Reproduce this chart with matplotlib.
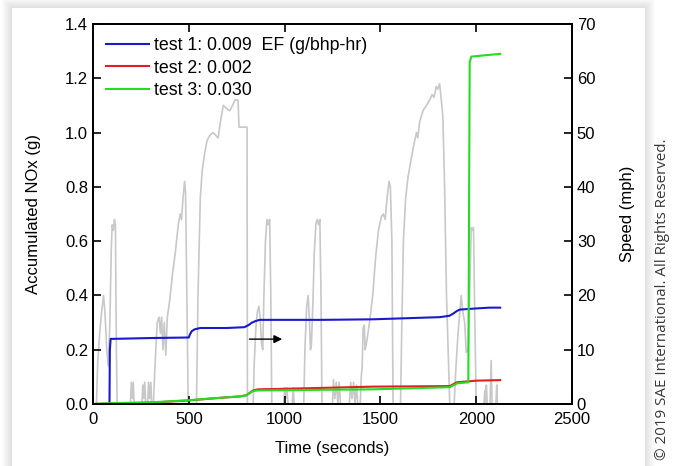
import matplotlib
matplotlib.use("Agg")
from matplotlib import pyplot as plt
from matplotlib.patches import Rectangle

plt.rcParams['font.family'] = ['Liberation Sans', 'DejaVu Sans']

# accumulated NOx (g) vs time (s)
t1 = [0, 86, 88, 92, 110, 300, 500, 505, 515, 530, 560, 700, 790, 810, 830, 850, 870,
      1200, 1460, 1810, 1860, 1880, 1900, 1915, 1960, 2000, 2070, 2125]
nox1 = [0, 0, 0.20, 0.24, 0.24, 0.243, 0.245, 0.255, 0.268, 0.275, 0.28, 0.28, 0.283,
        0.29, 0.30, 0.306, 0.31, 0.31, 0.312, 0.32, 0.325, 0.333, 0.343, 0.348, 0.35,
        0.352, 0.355, 0.355]
t2 = [0, 100, 300, 500, 650, 767, 800, 836, 860, 1000, 1463, 1863, 1898, 1950, 2000, 2125]
nox2 = [0, 0.002, 0.005, 0.013, 0.022, 0.028, 0.032, 0.05, 0.054, 0.056, 0.064, 0.066,
        0.08, 0.083, 0.086, 0.088]
t3 = [0, 100, 300, 500, 650, 767, 800, 836, 860, 1000, 1463, 1863, 1900, 1959, 1962,
      1966, 1975, 2050, 2125]
nox3 = [0, 0.003, 0.006, 0.014, 0.022, 0.028, 0.032, 0.048, 0.05, 0.051, 0.054, 0.062,
        0.076, 0.08, 0.6, 1.26, 1.28, 1.285, 1.29]

# vehicle speed (mph)
t_speed = [0, 18, 25, 35, 45, 55, 62, 72, 80, 88, 95, 100, 106, 112, 117, 122, 126,
           195, 200, 205, 210, 215, 255, 260, 265, 270, 275, 285, 290, 296, 302, 306,
           315, 325, 335, 345, 352, 358, 365, 372, 380, 388, 400, 415, 430, 445, 455,
           462, 470, 478, 483, 490, 497,
           540, 548, 560, 570, 582, 595, 610, 627, 640, 653, 665, 680, 695, 714, 728,
           741, 757, 762, 804, 806,
           836, 842, 850, 858, 866, 872, 880, 886, 892, 900, 908, 915, 922, 928, 933,
           995, 1000, 1006, 1012, 1018, 1040, 1045, 1050,
           1100, 1106, 1115, 1123, 1130, 1135, 1140, 1148, 1155, 1163, 1170, 1178, 1184,
           1190, 1195,
           1250, 1255, 1262, 1270, 1278, 1285, 1292, 1338, 1345, 1352, 1360, 1368, 1375,
           1382,
           1395, 1400, 1405, 1410, 1416, 1420, 1426, 1435, 1445, 1460, 1475, 1490, 1505,
           1515, 1525, 1535, 1545, 1552, 1560, 1566,
           1605, 1612, 1620, 1632, 1645, 1655, 1670, 1688, 1695, 1705, 1722, 1740, 1757,
           1770, 1780, 1792, 1800, 1809, 1818, 1826, 1835, 1845, 1855, 1862,
           1885, 1893, 1905, 1915, 1922, 1930, 1940, 1948, 1958, 1966, 1974, 1980, 1986,
           1993, 2000,
           2040, 2045, 2050, 2053, 2058, 2072, 2078, 2083, 2103, 2107, 2111, 2125]
speed = [0, 0, 8, 13, 17, 20, 17, 10, 7, 15, 28, 33, 32, 34, 33, 10, 0,
         0, 4, 1, 4, 0, 0, 3.5, 1, 4, 0, 0, 4, 1, 4, 0,
         0, 8, 15, 16, 13, 16, 10, 15, 9, 16, 19, 24, 28, 33, 35,
         34, 38, 41, 39, 20, 0,
         0, 20, 38, 43, 46, 48.5, 49.5, 50, 49.5, 49, 52, 55, 54.5, 54, 55,
         56, 56, 51, 51, 0,
         0, 8, 14, 17, 18, 16, 11, 10, 20, 30, 34, 33, 34, 20, 0,
         0, 3, 1, 3, 0, 0, 3, 0,
         0, 10, 18, 20, 15, 10, 11, 19, 28, 33, 34, 33, 34,
         20, 0,
         0, 4.5, 1, 4, 0, 4, 0, 0, 4, 1, 4, 0, 3.5,
         0,
         0, 5, 7, 14, 14.5, 10, 11, 13, 15.5, 20, 27, 32, 34.5,
         35, 34, 38, 41, 40, 30, 0,
         0, 15, 30, 38, 42, 44, 47, 50, 49, 52, 54, 55, 56,
         57, 56.5, 58.5, 58, 59, 56, 53, 40, 20, 8, 0,
         0, 6, 13, 17, 20, 17, 15, 9.5, 10, 20, 32.5, 32, 32.5,
         15, 0,
         0, 2.5, 0, 3.5, 0, 0, 8, 0, 0, 3.5, 0, 0]

fig = plt.figure(figsize=(6.81, 4.66), dpi=100, facecolor='white')

# white panel with soft shadow
px0, py0, px1 = 12 / 681, 1 - 8 / 466, 645 / 681
for i in range(10, 0, -1):
    d = i / 681
    dy = i / 466
    fig.patches.append(Rectangle((px0 - d, -0.05), px1 - px0 + 2 * d, py0 + dy + 0.05,
                                 transform=fig.transFigure, facecolor='black',
                                 alpha=0.012, edgecolor='none', zorder=-2))
fig.patches.append(Rectangle((px0, -0.05), px1 - px0, py0 + 0.05,
                             transform=fig.transFigure, facecolor='white',
                             edgecolor='none', zorder=-1))

ax = fig.add_axes([93 / 681, 62 / 466, 479 / 681, 380 / 466])
ax2 = ax.twinx()

ax2.plot(t_speed, speed, color='#c8c8c8', lw=1.2)
ax2.set_ylim(0, 70)
ax2.set_ylabel('Speed (mph)', fontsize=12, labelpad=18)

ax.plot(t1, nox1, color='#1a1acc', lw=1.5, label='test 1: 0.009  EF (g/bhp-hr)')
ax.plot(t2, nox2, color='#e02020', lw=1.5, label='test 2: 0.002')
ax.plot(t3, nox3, color='#22dd22', lw=1.5, label='test 3: 0.030')
ax.set_zorder(ax2.get_zorder() + 1)
ax.patch.set_visible(False)

ax.annotate('', xy=(1002, 0.239), xytext=(802, 0.239),
            arrowprops=dict(arrowstyle='-|>', color='black', lw=1, mutation_scale=12))

ax.set_xlim(0, 2500)
ax.set_ylim(0, 1.4)
ax.set_xticks([0, 500, 1000, 1500, 2000, 2500])
ax.set_yticks([0, 0.2, 0.4, 0.6, 0.8, 1.0, 1.2, 1.4])
ax.set_yticklabels(['0.0', '0.2', '0.4', '0.6', '0.8', '1.0', '1.2', '1.4'])
ax.set_xlabel('Time (seconds)', fontsize=12, labelpad=10)
ax.set_ylabel('Accumulated NOx (g)', fontsize=12, labelpad=17)

ax.tick_params(axis='x', direction='in', top=True, length=6, width=1.2, labelsize=12, pad=6)
ax.tick_params(axis='y', direction='in', length=6, width=1.2, labelsize=12)
ax2.tick_params(axis='y', direction='in', length=6, width=1.2, labelsize=12)
for a in (ax, ax2):
    for s in a.spines.values():
        s.set_linewidth(1.3)

ax.legend(loc='upper left', bbox_to_anchor=(0.0, 1.0), frameon=False, fontsize=12.8,
          handlelength=2.4, handletextpad=0.3, labelspacing=0.3, borderaxespad=0.35)

fig.text(663 / 681, 6 / 466, '\u00a9 2019 SAE International. All Rights Reserved.',
         rotation=90, ha='center', va='bottom', fontsize=10.9, color='#383838',
         family=['Open Sans', 'DejaVu Sans'])

fig.savefig('out.png', dpi=100, facecolor='white')
